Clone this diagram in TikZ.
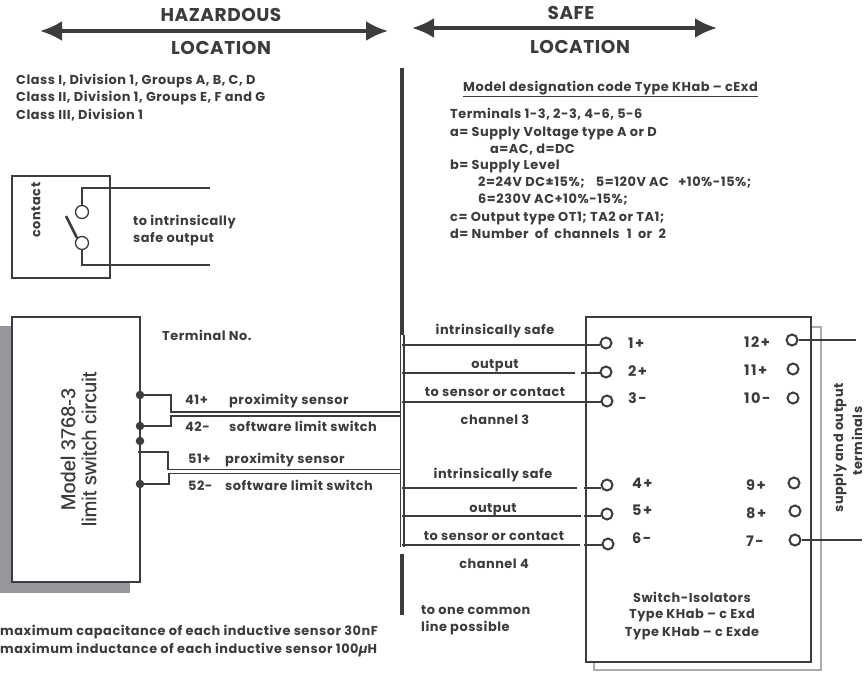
\documentclass[tikz,border=0pt]{standalone}
\usepackage{fontspec}
\setmainfont{Poppins}
\setsansfont{Liberation Sans}
\newfontfamily\labf[LetterSpace=4]{Poppins}
\newfontfamily\numf[LetterSpace=10]{Poppins}
\newfontfamily\bigf[LetterSpace=3]{Poppins}
\newfontfamily\modf[FakeBold=0.5]{Liberation Sans}
\usetikzlibrary{arrows.meta,calc}
\definecolor{ink}{HTML}{3C3C3E}
\definecolor{shadegray}{HTML}{97979B}
\definecolor{pale}{HTML}{ABABAD}
\tikzset{
  lab/.style={text=ink,font=\labf\fontsize{12.9}{15}\selectfont\bfseries,inner sep=0pt,anchor=base west},
  numlab/.style={text=ink,font=\numf\fontsize{14.5}{16}\selectfont\bfseries,inner sep=0pt,anchor=base west},
  cen/.style={lab,anchor=base},
  vert/.style={text=ink,font=\labf\fontsize{12.9}{15}\selectfont\bfseries,rotate=90,inner sep=0pt},
  big/.style={text=ink,font=\bigf\fontsize{18.5}{20}\selectfont\bfseries,inner sep=0pt,anchor=base},
  wire/.style={draw=ink,line width=1.3pt},
  heavy/.style={draw=ink,line width=2.6pt},
  bar/.style={draw=ink,line width=4.5pt},
  term/.style={circle,draw=ink,line width=2pt,minimum size=11pt,inner sep=0pt,fill=white},
  dot/.style={circle,fill=ink,minimum size=8.5pt,inner sep=0pt},
  span/.style={draw=ink,line width=3.5pt,{Latex[length=22pt,width=20pt]}-{Latex[length=22pt,width=20pt]}},
}
\begin{document}
\begin{tikzpicture}[x=1pt,y=-1pt]
\useasboundingbox (0,0) rectangle (866,672);
% headings
\coordinate (hl) at (40,31); \coordinate (hr) at (388,31);
\coordinate (sl) at (412,28); \coordinate (sr) at (717,28);
\draw[span] (hl) -- (hr);
\draw[span] (sl) -- (sr);
\node[big] (haz) at (221,21) {HAZARDOUS};
\node[big] (loc1) at (221,54) {LOCATION};
\node[big] (safe) at (571,19) {SAFE};
\node[big] (loc2) at (580,53) {LOCATION};
% class text
\node[lab] (c1) at (16,84) {Class I, Division 1, Groups A, B, C, D};
\node[lab] (c2) at (16,101) {Class II, Division 1, Groups E, F and G};
\node[lab] (c3) at (16,119) {Class III, Division 1};
% model code
\node[lab] (m0) at (463,91) {\underline{Model designation code Type KHab – cExd}};
\node[lab] (m1) at (450,118) {Terminals 1-3, 2-3, 4-6, 5-6};
\node[lab] (m2) at (450,136) {a= Supply Voltage type A or D};
\node[lab] (m3) at (490,153) {a=AC, d=DC};
\node[lab] (m4) at (450,169) {b= Supply Level};
\node[lab] (m5) at (478,186) {2=24V DC±15\%;\hspace{8pt} 5=120V AC\hspace{6pt} +10\%-15\%;};
\node[lab] (m6) at (478,203) {6=230V AC+10\%-15\%;};
\node[lab] (m7) at (450,221) {c= Output type OT1; TA2 or TA1;};
\node[lab] (m8) at (450,238) {d= Number\hspace{3pt} of\hspace{3pt} channels\hspace{4pt} 1\hspace{3pt} or\hspace{3pt} 2};
% central bars
\coordinate (b1t) at (402,68); \coordinate (b1b) at (402,335);
\coordinate (b2t) at (402,554); \coordinate (b2b) at (402,615);
\draw[bar] (b1t) -- (b1b);
\draw[bar] (b2t) -- (b2b);
\coordinate (d1t) at (400.5,335); \coordinate (d1b) at (400.5,547);
\coordinate (d2t) at (404,335); \coordinate (d2b) at (404,547);
\draw[wire] (d1t) -- (d1b);
\draw[wire] (d2t) -- (d2b);
% contact
\node[draw=ink,line width=2.6pt,minimum width=98pt,minimum height=102pt,inner sep=0pt] (cbox) at (61,227) {};
\node[vert] (ct) at (36,210) {contact};
\node[term,line width=1.3pt,minimum size=13pt] (k1) at (82,212) {};
\node[term,line width=1.3pt,minimum size=13pt] (k2) at (82,243) {};
\coordinate (k1e) at (210,188); \coordinate (k2e) at (210,265);
\draw[wire] (k1.north) |- (k1e);
\draw[wire] (k2.south) |- (k2e);
\coordinate (swa) at (66,216);
\draw[draw=ink,line width=2.6pt] (swa) -- (k2.north west);
\node[lab] (ts1) at (133,225) {to intrinsically};
\node[lab] (ts2) at (133,242) {safe output};
% model box
\fill[shadegray] (0,326) rectangle (130,593);
\node[draw=ink,line width=2.6pt,fill=white,minimum width=128pt,minimum height=265pt,inner sep=0pt] (mbox) at (76,449.5) {};
\node[rotate=90,text=ink,font=\modf\fontsize{20}{21}\selectfont,align=center,inner sep=0pt] (mt) at (78.5,449) {Model 3768-3\\limit switch circuit};
\node[lab] (tn) at (162,340) {Terminal No.};
\node[dot] (p1) at (140,395) {};
\node[dot] (p2) at (140,426) {};
\node[dot] (p3) at (140,441) {};
\node[dot] (p4) at (140,484) {};
\coordinate (p3w) at (138,452);
\coordinate (e1) at (171,397); \coordinate (e2) at (168,452);
\coordinate (da) at (171,412); \coordinate (db) at (171,416);
\coordinate (dc) at (168,469.5); \coordinate (dd) at (169,473.5);
\coordinate (ja) at (401,412); \coordinate (jb) at (401,416);
\coordinate (jc) at (401,469.5); \coordinate (jd) at (401,473.5);
\draw[wire] (p1) -- (p1 -| e1) -- (da) -- (ja);
\draw[wire] (p2) -| (db) -- (jb);
\draw[wire] (p3w) -- (e2) -- (dc) -- (jc);
\draw[wire] (p4) -| (dd) -- (jd);
\node[lab] at (185,404) (n41) {41+};
\node[lab] at (229,404) (s41) {proximity sensor};
\node[lab] at (185,431) (n42) {42-};
\node[lab] at (229,431) (s42) {software limit switch};
\node[lab] at (188,463) (n51) {51+};
\node[lab] at (225,463) (s51) {proximity sensor};
\node[lab] at (188,490) (n52) {52-};
\node[lab] at (225,490) (s52) {software limit switch};
\node[lab] (b1) at (0,635) {maximum capacitance of each inductive sensor 30nF};
\node[lab] (b2) at (0,653) {maximum inductance of each inductive sensor 100{\itshape µ}H};
% isolator box
\coordinate (ga) at (811,327); \coordinate (gb) at (821,327); \coordinate (gc) at (821,670); \coordinate (gd) at (594,670); \coordinate (ge) at (594,662);
\draw[draw=pale,line width=2.2pt] (ga) -- (gb) -- (gc) -- (gd) -- (ge);
\node[draw=ink,line width=2.6pt,minimum width=225pt,minimum height=345pt,inner sep=0pt] (ibox) at (698.5,489.5) {};
\coordinate (j1) at (402,345); \coordinate (j2) at (402,373); \coordinate (j3) at (402,402);
\coordinate (j4) at (402,488); \coordinate (j5) at (402,516); \coordinate (j6) at (402,545);
\coordinate (g2a) at (575,373); \coordinate (g2b) at (581,373);
\coordinate (g4a) at (577,488); \coordinate (g4b) at (584,488);
\coordinate (g5a) at (581,516); \coordinate (g5b) at (584,516);
\coordinate (g6a) at (580,545); \coordinate (g6b) at (584,545);
\coordinate (o12) at (856,340); \coordinate (o7) at (862,540);
\node[term] (t1) at (606,343) {};
\node[term] (t2) at (606,372) {};
\node[term] (t3) at (607,401) {};
\node[term] (t4) at (607,485) {};
\node[term] (t5) at (607,514) {};
\node[term] (t6) at (608,544) {};
\node[term] (t12) at (792,340) {};
\node[term] (t11) at (793,369) {};
\node[term] (t10) at (793,398) {};
\node[term] (t9) at (794,483) {};
\node[term] (t8) at (795,511) {};
\node[term] (t7) at (795,540) {};
\draw[wire] (j1) -- (j1 -| t1.west);
\draw[wire] (j2) -- (g2a) (g2b) -- (g2b -| t2.west);
\draw[wire] (j3) -- (j3 -| t3.west);
\draw[wire] (j4) -- (g4a) (g4b) -- (g4b -| t4.west);
\draw[wire] (j5) -- (g5a) (g5b) -- (g5b -| t5.west);
\draw[wire] (j6) -- (g6a) (g6b) -- (g6b -| t6.west);
\draw[wire] (t12.east) -- (o12);
\draw[wire] (t7.east) -- (o7);
\foreach \nm/\x/\y/\t in {a1/628/348/1+,a2/628/376/2+,a3/628/403/3-,a4/632/488/4+,a5/632/515/5+,a6/632/543/6-,a12/744/347/12+,a11/744/375/11+,a10/744/403/10-,a9/746/490/9+,a8/746/518/8+,a7/746/546/7-}
  \node[numlab] (\nm) at (\x,\y) {\t};
\node[cen] (i1) at (495,334) {intrinsically safe};
\node[cen] (i2) at (495,368) {output};
\node[cen] (i3) at (495,396) {to sensor or contact};
\node[cen] (i4) at (495,424) {channel 3};
\node[cen] (i5) at (493,478) {intrinsically safe};
\node[cen] (i6) at (493,512) {output};
\node[cen] (i7) at (494,540) {to sensor or contact};
\node[cen] (i8) at (494,568) {channel 4};
\node[lab] (l1) at (421,614) {to one common};
\node[lab] (l2) at (421,631) {line possible};
\node[cen] (w1) at (692,602) {Switch-Isolators};
\node[cen] (w2) at (692,618) {Type KHab – c Exd};
\node[cen] (w3) at (692,636) {Type KHab – c Exde};
\node[vert] (v1) at (840,448) {supply and output};
\node[vert] (v2) at (857,441) {terminals};
\end{tikzpicture}
\end{document}
